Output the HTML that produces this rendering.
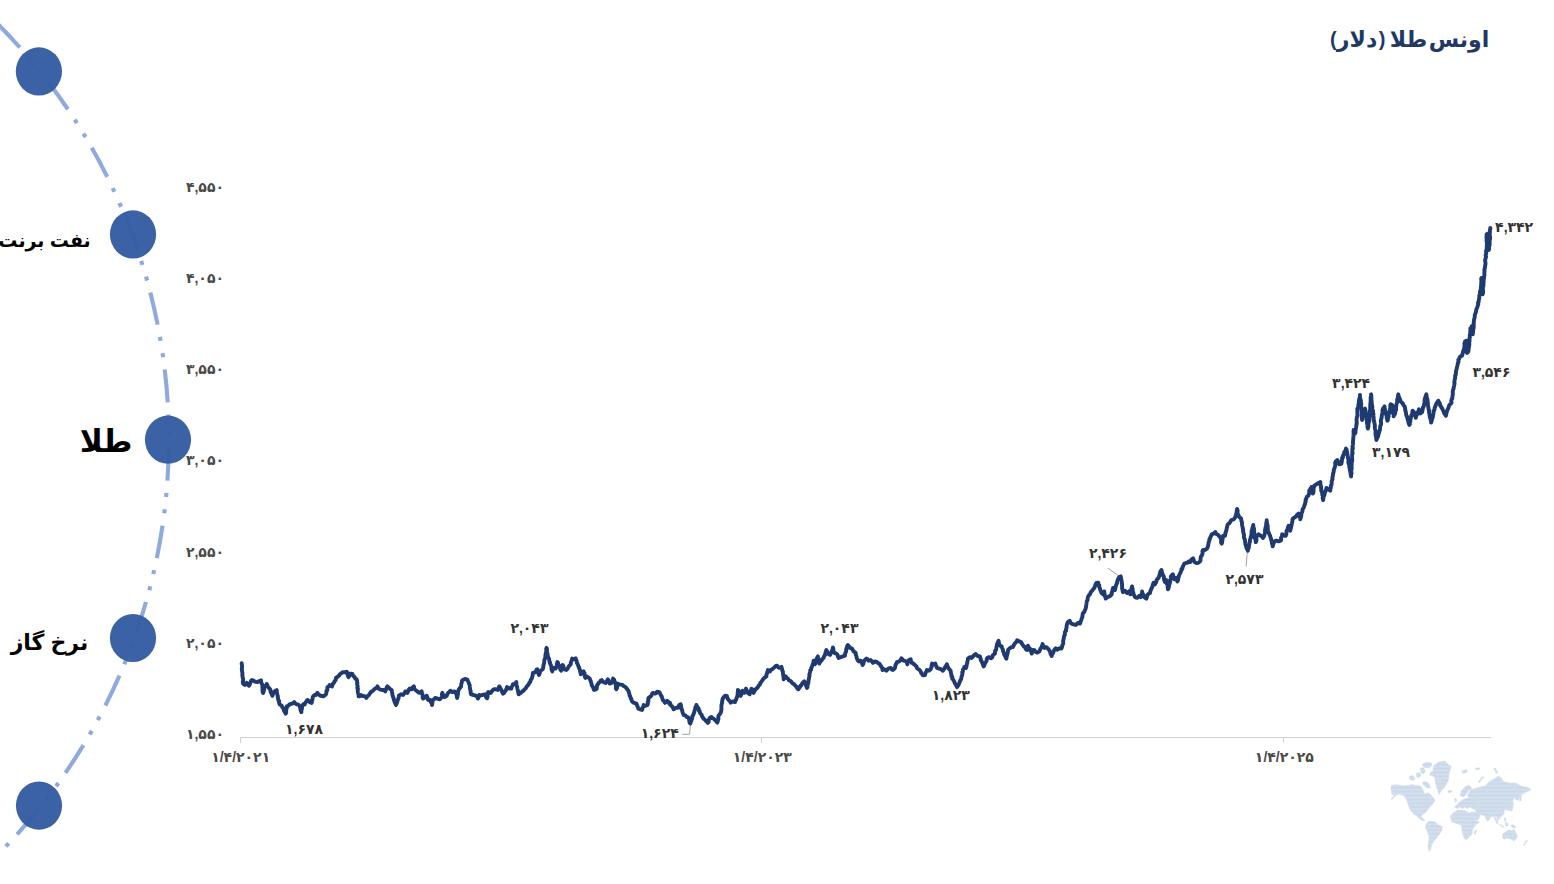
<!DOCTYPE html>
<html lang="fa" dir="ltr">
<head>
<meta charset="utf-8">
<title>اونس طلا (دلار)</title>
<style>
html,body{margin:0;padding:0;background:#fff;}
body{width:1554px;height:884px;overflow:hidden;font-family:"Liberation Sans",sans-serif;}
svg{display:block;}
svg text{font-family:"Liberation Sans","DejaVu Sans",sans-serif;}
</style>
</head>
<body>
<svg width="1554" height="884" viewBox="0 0 1554 884">
<path d="M-77.32 -40A589.73 589.73 0 0 1 -52.65 900" fill="none" stroke="#8faadc" stroke-width="4.12" stroke-dasharray="32.96 12.36 4.12 12.36 4.12 12.36" stroke-dashoffset="58.43"/>
<ellipse cx="38.9" cy="71.4" rx="23.1" ry="24.1" fill="#355ca3" fill-opacity="0.965"/>
<ellipse cx="133" cy="234.4" rx="23.1" ry="24.1" fill="#355ca3" fill-opacity="0.965"/>
<ellipse cx="168" cy="439.7" rx="23.1" ry="24.1" fill="#355ca3" fill-opacity="0.965"/>
<ellipse cx="133" cy="638" rx="23.1" ry="24.1" fill="#355ca3" fill-opacity="0.965"/>
<ellipse cx="39" cy="805.6" rx="23.1" ry="24.1" fill="#355ca3" fill-opacity="0.965"/>
<text x="44.5" y="247.3" font-size="19" font-weight="bold" fill="#000" text-anchor="middle" direction="rtl">نفت برنت</text>
<text x="106" y="451.8" font-size="31" font-weight="bold" fill="#000" text-anchor="middle" direction="rtl">طلا</text>
<text x="49.5" y="649.6" font-size="22" font-weight="bold" fill="#000" text-anchor="middle" direction="rtl">نرخ گاز</text>
<text x="1459" y="47.4" font-size="22" font-weight="bold" fill="#1f3864" text-anchor="middle" direction="rtl">اونس</text>
<text x="1408.5" y="47.4" font-size="22" font-weight="bold" fill="#1f3864" text-anchor="middle" direction="rtl">طلا</text>
<text x="1382" y="46.2" font-size="20" font-weight="bold" fill="#1f3864" text-anchor="middle">)</text>
<text x="1357" y="47.4" font-size="22" font-weight="bold" fill="#1f3864" text-anchor="middle" direction="rtl">دلار</text>
<text x="1333.3" y="46.2" font-size="20" font-weight="bold" fill="#1f3864" text-anchor="middle">(</text>
<path d="M240 737.5H1491" stroke="#d2d2d2" stroke-width="1" fill="none"/>
<path d="M240.5 737.5V743.0" stroke="#d2d2d2" stroke-width="1" fill="none"/>
<path d="M761.5 737.5V743.0" stroke="#d2d2d2" stroke-width="1" fill="none"/>
<path d="M1283.5 737.5V743.0" stroke="#d2d2d2" stroke-width="1" fill="none"/>
<text x="224" y="192" font-size="14" font-weight="bold" fill="#4a4a4a" text-anchor="end">۴,۵۵۰</text>
<text x="224" y="283.1" font-size="14" font-weight="bold" fill="#4a4a4a" text-anchor="end">۴,۰۵۰</text>
<text x="224" y="374.3" font-size="14" font-weight="bold" fill="#4a4a4a" text-anchor="end">۳,۵۵۰</text>
<text x="224" y="465.4" font-size="14" font-weight="bold" fill="#4a4a4a" text-anchor="end">۳,۰۵۰</text>
<text x="224" y="556.5" font-size="14" font-weight="bold" fill="#4a4a4a" text-anchor="end">۲,۵۵۰</text>
<text x="224" y="647.6" font-size="14" font-weight="bold" fill="#4a4a4a" text-anchor="end">۲,۰۵۰</text>
<text x="224" y="738.8" font-size="14" font-weight="bold" fill="#4a4a4a" text-anchor="end">۱,۵۵۰</text>
<text x="240.7" y="761.9" font-size="14" font-weight="bold" fill="#4a4a4a" text-anchor="middle">۱/۴/۲۰۲۱</text>
<text x="762.3" y="761.9" font-size="14" font-weight="bold" fill="#4a4a4a" text-anchor="middle">۱/۴/۲۰۲۳</text>
<text x="1284.4" y="761.9" font-size="14" font-weight="bold" fill="#4a4a4a" text-anchor="middle">۱/۴/۲۰۲۵</text>
<path d="M690.4 724.3L689.6 734.3H682.1" stroke="#a3a3a3" stroke-width="1" fill="none"/>
<path d="M1108 568.2L1121.1 577.5" stroke="#a3a3a3" stroke-width="1" fill="none"/>
<path d="M1247.3 552.1L1246.1 566.4" stroke="#a3a3a3" stroke-width="1" fill="none"/>
<path d="M241.7 663.1 241.68 664.01 242.01 665.3 242.03 667.11 241.79 668.71 241.88 670.01 242 670.93 242.4 672.9 242.43 674.7 242.31 675.19 242.75 677.54 242.8 678.11 243.17 678.95 243.18 680.63 242.76 681.73 243.1 683.6 244.9 685 245.67 684.39 246.7 682.9 247.68 684.41 249.1 685.7 249.92 684.1 250.58 682.24 250.97 681.01 252 680 253.43 680.6 254.6 681.4 255.87 681.87 257.4 682.1 258.57 681.22 260.01 681.18 261 680.3 261.1 681.76 261.58 683.55 262 684.08 262.46 685.21 262.4 687.1 262.52 688.91 262.51 689.98 262.6 691.69 263.1 692.9 263.59 691.7 263.96 690.04 264.14 689.13 264.36 687.64 264.6 686.4 265.89 685.82 266.7 684 267.41 685.38 267.84 686.58 268.98 688.14 269.6 688.6 270.39 689.72 270.64 691.68 270.95 692.81 271.61 693.74 272.4 695.7 272.82 694.64 273.61 692.48 274.6 691.4 276.7 690 276.86 691.95 276.87 692.8 277.43 694.84 277.86 696.24 277.71 697.05 278.1 698.6 278.38 700.56 279.17 700.96 279 702.5 279.6 704.3 281.7 705.7 282.25 707.11 283.23 708.23 283.9 710 284.15 711.09 285.01 712.49 285.7 713.6 286.22 712.43 286.11 710.88 286.42 708.66 286.78 708.23 286.7 706.4 288.41 705.77 289.6 704.3 290.92 703.81 292.4 703.6 294.3 702.1 295.22 703.39 296.7 704.3 297.84 704.39 299.6 705.7 299.76 706.51 300.21 707.63 300.33 709.05 300.76 710.63 301.4 712.1 301.32 711.02 301.98 708.41 301.98 707.09 302.4 705.7 303.27 704.24 304.58 704.52 305.3 702.9 306.33 701.43 307.4 700 308.21 700.49 309.6 702.1 311.7 702.9 311.87 701.27 312.49 699.83 312.21 699.63 312.84 697.21 313.1 696.4 314.58 695.04 316 695 317.4 692.9 318.39 694.5 319.59 695.04 320.3 695.7 321.53 695.86 323.1 696.4 324.32 695.73 326 694.3 326.3 693.25 326.44 691.03 327.06 690.66 327.37 688.97 327.4 687.1 328.72 686.39 329.6 685 330.61 685.72 332 686.4 332.53 684.57 332.94 683.76 333.9 682.9 334.26 681.92 335.27 680.33 335.78 679.83 336 677.9 338.1 676.4 339.39 675.28 339.84 674.15 341 673.6 342.24 672.44 343.9 672.1 345.39 672.46 346.7 671.7 347.41 673.02 347.76 674.82 347.83 675.97 348.6 677.1 349.39 675.75 349.6 673.6 351.18 673.77 352.4 674 353.27 675.95 354.6 677.1 355.32 678.72 356.6 679.35 357.1 680.7 357.12 682.65 357.43 682.9 357.1 684.2 357.73 686.44 357.28 687.8 357.95 688.89 357.7 690 357.82 691.67 357.89 692.52 358.7 695.01 358.6 696.4 359.82 696.31 361 695 362.4 696.02 363.9 696 365.33 696.55 366.3 697.9 367.43 696.16 368.9 695 369.65 693.92 370.6 692.49 371.7 691.4 372.64 691.04 374 689.47 375.3 688.6 376.41 688.07 377.4 686.4 378.44 688.43 379.6 689.3 381 689.69 382.4 690 383.87 690.03 385.3 691.4 385.78 689.71 386 689.32 386.65 687.61 387.4 686.4 388.66 687.58 389.6 688.6 391.7 690 391.86 691.45 392.3 693.24 392.26 694.34 392.64 695.37 393.1 697.1 393.67 698.36 393.89 699.96 394.51 700.77 394.6 702.1 395.38 703.56 396 705 396.71 703.47 397.4 701.4 397.74 700.02 398.13 699.17 398.66 697.65 398.9 695.7 401 694.3 403.1 695 404.14 693.46 404.61 693.22 405.3 691.4 407.4 692.9 408.37 690.96 408.6 689.95 409.6 688.6 411.7 689.3 412.5 687.49 413.9 686.4 414.3 688.44 415.3 690 417.4 691.4 418.7 692.71 419.6 692.9 421.7 691.4 421.74 693.14 422.37 693.78 422.81 696.37 422.62 697.79 423.1 698.6 424.13 697.83 425.3 697.1 426.7 695.7 427.51 697.6 427.4 698.47 428.1 700 430.3 700 430.74 701.02 430.94 702.25 431.73 703.08 432 705 432.4 703.25 432.4 701.43 433.1 700 434.29 698.97 435.3 697.9 437.4 698.6 439.6 699.3 440.35 698.88 441.7 697.1 442.14 696.36 441.89 693.97 442.4 692.9 442.81 694.69 443.71 695.18 444.6 697.1 446 696.4 446.65 695.81 447.62 693.73 448.1 692.9 448.95 692.39 450.3 690.7 452.4 692.1 454.6 691.4 455.7 693.13 456.7 694.3 456.61 695.48 457.1 697.9 457.48 696.48 457.3 695.88 457.94 694.37 457.81 693.13 458.05 691.82 458.6 690 459.62 688.32 460.7 687.1 461.12 686.28 461.3 683.74 461.86 682.47 461.95 680.95 462.6 680 465 679 467.4 679.6 467.72 680.75 468.54 682.46 469.3 684.3 469.74 685.43 469.81 686.71 469.96 687.91 470.15 689.34 470.75 691.51 470.63 692.84 471.1 694.3 473.6 695 475.7 695.7 477.1 696.6 477.9 698.6 478.82 696.71 479.3 695 480.7 695.47 482.1 695 483.48 694.66 485 694.3 485.83 696.31 486.29 697.43 487.1 698.3 487.54 696.94 487.63 694.99 487.69 693.13 488.3 692.1 490.7 692.9 491.5 691.79 492.9 690 494.13 689.18 495.7 689.3 497.9 690 498.31 688.68 499.3 686.4 500.26 687.84 500.55 688.44 501.4 690 501.82 691.14 502.29 692.32 503.1 693.6 503.88 693.15 505 691.4 506.03 690.03 506.22 689.19 507.1 687.1 508.07 687.65 509.3 688.6 511.4 688.6 511.55 687 512.38 685.74 512.9 684.3 515 684.3 515.49 683.21 516.4 682.1 516.25 683.07 516.51 684.56 516.68 685.33 517.06 686.93 517.4 688.6 517.76 690.07 518.18 691.67 518.45 693.41 518.6 694.3 520.7 692.9 522.07 691.56 523.6 690.7 524.87 689.01 525.62 688.5 526.4 687.1 527.05 686.17 528.61 684.48 529.3 682.9 530.26 681.9 530.65 680.07 531.7 678.6 532 677.64 532.51 676.21 532.66 674.87 532.9 672.9 534.43 672.57 535.7 671.7 536.36 669.84 537.4 669.3 537.52 670.53 537.87 672.62 538.57 673.75 538.9 675 539.59 673.82 540.09 671.44 540.7 670.7 542.6 669.3 543.15 668.21 543.28 666.47 543.73 664.37 544.13 663.19 544.3 662.1 544.28 660.17 545.01 658.49 545.29 657.97 545.4 655.7 545.6 654.24 545.79 653.36 546.19 651.96 546.3 649.91 546.15 648.86 546.6 647.9 546.95 648.93 547.01 649.82 546.84 651.48 547.45 653.37 547.64 654.11 547.7 655.7 548.11 656.9 548.48 657.67 549.18 659.03 549.3 660.7 550.08 662.56 549.86 663.14 550.87 665.11 551.1 665.7 551.36 666.8 551.5 669.17 551.8 670.09 552.3 671.4 552.7 669.68 553.6 667.9 555.7 668.6 556.36 666.79 556.6 666.01 556.99 664.98 556.87 663.96 557.4 662.1 558.02 662.63 558.32 664.49 559.3 665.7 559.72 666.67 559.95 667.98 560.52 669.93 561.1 670.7 561.13 669.63 562.09 667.32 562.52 666.72 562.6 665 563.45 666.14 563.64 667.72 564.3 669.3 566.4 670 567.7 668.67 568.3 667.1 569.4 665.6 570.7 664.3 570.89 662.24 571.12 661.92 571.6 660.63 572.1 658.6 574.3 659.3 575.7 658.3 575.95 659.3 576.56 660.52 576.89 662.91 577.4 663.6 578.14 665.29 578.44 666.68 579.13 667.42 579.3 668.6 579.8 669.39 580.16 671.38 580.53 673.08 580.7 674.3 582.1 672.9 583.6 671.4 583.81 672.07 584.62 673.48 584.66 675.08 584.9 676.93 585.4 677.9 587.1 676.4 588.9 677.9 589.83 678.73 590.21 679.95 590.7 681.4 591.22 682.5 591.42 683.43 591.92 685.72 592.6 686.4 593.3 687.81 594 690 596 689.3 596.76 688.75 596.91 686.3 597.21 684.98 597.9 684.3 598.84 682.63 600 682.1 600.67 680.71 601.7 680 602.7 681.59 603.6 682.1 605.7 682.9 606.61 681.58 607.11 680.53 607.9 679.3 608.41 680.51 608.79 681.86 609.7 683.6 611.4 682.9 612.29 680.94 612.54 680.21 613.1 678.6 613.99 679.37 614.21 680.58 615 682.1 615.21 683.46 615.88 685.47 616.1 685.75 615.79 688.15 616.4 689.3 617.05 687.84 617.21 685.75 617.45 685.62 617.9 683.6 619.53 684.6 620.7 684.6 622.48 684.95 623.6 686 624.73 686.47 626.4 687.9 627.15 689.32 628.18 690.54 628.6 691.4 629.13 693.02 629.42 693.97 629.55 695.55 630.3 696.4 630.56 698.24 631.3 698.63 631.39 699.8 632.1 701.4 633.3 702.43 634.3 702.9 636.4 703.6 636.6 704.25 637.37 706.22 637.75 706.96 638.3 708.6 640 709.3 642.1 710 642.55 708.06 642.71 707.44 643.55 706.45 643.6 705 645.7 705.7 647.4 705 647.91 703.55 647.69 701.81 648.44 701.03 648.23 698.65 648.6 697.9 650.7 696.4 651.43 695.48 652.11 693.73 652.9 692.9 655 693.6 656.17 693.25 657.1 691.7 659.3 692.1 659.71 692.65 660.39 694.39 661.1 695.7 661.83 696.71 662.51 698.9 662.9 700 663.95 701.04 665 702.9 666.38 701.54 667.1 700.7 668.42 701.77 669.3 703.6 670 702.9 670.51 704.43 671.26 705.87 672.1 706.4 672.85 707.41 673.6 709.3 675.7 707.9 677.9 707.9 678.41 706.33 679.3 705 680.7 704.3 681.17 706.35 681.15 707 681.55 709.24 682.1 710 682.22 710.62 682.54 712.35 683.5 714.29 683.6 715 685.7 715.7 686.96 717.1 687.9 717.1 688.9 718.66 689.3 720.7 689.58 722.76 690.3 723.6 690.92 721.69 691.32 720.93 691.56 719.61 692.1 718.6 692.31 716.46 692.83 715.51 693.74 713.75 694.18 712.43 694.3 711.4 694.62 710.57 695.37 708.75 695.24 707.52 695.89 706.87 696.4 705 696.94 706.26 697.9 707.9 698.7 708.49 698.89 710.84 699.66 711.01 700 712.9 700.37 713.45 701.69 714.89 702.1 716.4 703.37 718.41 704.3 719.3 705.24 720.03 706.4 721.4 707.9 722.9 708.69 721.63 708.67 720.34 709.3 718.6 710.22 717.44 711.4 716.9 712.15 718.11 713.6 718.6 714.94 719.84 715.7 720.7 717.4 722.6 717.95 720.55 717.69 719.81 718.44 719.1 718.28 716.73 718.6 715.7 719.6 714.29 720.7 712.9 721.17 711.02 721.25 710.37 721.43 708.98 721.44 706.93 721.41 705.54 721.7 704.3 722.2 702.29 722.09 701.8 722.42 699.42 722.9 698.6 723.62 697.22 725 695.7 726.9 696 727.34 698.01 728.3 699.35 728.6 700 729.49 700.72 730.7 702.6 732.9 701.4 735 702.1 735.24 700.85 736.2 699.53 736.39 698.23 737.1 697.1 737.34 695.92 737.59 694.75 737.7 692.31 737.98 691.13 737.9 690 738.85 690.87 739.7 692.1 740.2 692.98 740.19 694.34 740.7 696 740.93 695.21 741.7 693.11 742.05 692.71 742.6 690.7 743.46 691.42 744.3 692.9 745.08 691.68 745.78 689.48 746 688.6 746.62 690.48 747.51 692.05 747.9 692.9 749.7 694.3 749.8 692.59 750.28 691.02 751.31 690.14 751.4 688.6 752.43 689.85 753.12 691.4 753.6 692.9 754.03 692.09 755.11 689.95 755.4 689.3 756.72 688.37 757.9 687.1 758.75 685.52 760 684.3 760.45 682.69 761.23 682.04 762.1 680.7 763.31 678.88 764.3 677.9 766.4 676.4 766.36 674.88 767.12 673.4 767.17 672.14 767.81 671.35 767.9 670 770 671.4 770.74 669.79 772.1 669.3 773.13 668.42 774.3 667.4 775.8 665.98 777.1 665.7 777.96 667.07 779.3 667.9 781.4 666.9 781.84 668.1 782.27 670.53 782.9 671.4 782.89 672.81 783.03 673.92 783.5 676.05 783.27 676.24 783.64 677.57 783.6 679.3 784.3 678.41 785.7 676.4 786.75 677.95 787.9 678.6 788.88 680.19 790 680.7 791.02 681.33 792.1 682.9 792.86 683.67 794.3 684.3 795.45 685.92 796.4 686.4 797.06 688.02 798.3 689.3 799.06 688.21 800 687.1 800.45 685.63 801.41 685.36 802.1 683.6 802.93 682.49 804.3 681.4 805.21 683.5 805.7 684.3 806.09 685.58 806.9 687.9 807.49 687.25 807.45 684.64 808.05 683.79 808.32 682.8 808.54 680.84 808.6 680 809.03 678.29 809 677.85 809.53 675.61 809.34 674.59 809.78 673.25 810 672.1 810.26 670.32 811.21 669.81 811.25 667.91 812.1 666.4 812.66 664.33 813.09 663.01 813.29 662.2 813.6 660.7 814.39 662.23 815 664.3 815.41 662.75 815.88 661.19 816.4 659.3 817.11 657.76 817.9 656.4 817.85 658.01 818.45 658.91 818.92 661.11 818.99 661.71 819.3 663.6 820.33 661.6 821.4 660.7 822.24 659.2 823.6 657.9 824.01 656.37 825 655 825.47 652.69 826.03 651.08 826.4 650 827.06 651.59 827.41 651.78 827.9 653.6 830 655 830.7 653.38 831.4 652.1 832.22 650.02 832.65 649.66 832.9 647.4 833.41 649.22 833.39 650.82 833.94 652.16 834.3 652.9 836.4 653.6 837.42 654.56 838.07 657.07 838.6 657.9 840.7 657.1 842.9 656.4 845 655.7 844.98 654.07 845.74 652.38 846.12 651.12 846.34 649.52 846.4 648.6 846.9 647.99 847.2 645.87 847.9 645 848.95 646.2 850 647.9 852.1 648.6 852.53 649.55 853.6 651.4 855.7 652.9 855.81 654.94 856.53 656.3 856.52 657.57 857.1 658.6 857.58 660.04 858.6 661.4 860.7 660.7 861.43 661.94 862.23 663.64 862.6 665 863.22 664.1 863.46 662.82 864.3 660.7 865.44 659.5 866.4 658.6 867.71 659.32 868.6 660.7 870.7 660 872.14 661.56 872.9 662.9 875 661.4 877.1 662.1 878.1 663.22 879.3 663.6 880.7 665.7 881.29 666.68 882.14 667.93 882.6 670 884.3 669.3 886.4 670.7 887.72 669.16 888.6 668.3 890.7 667.9 891.9 669.63 892.9 670 894.01 669.18 895 667.9 895.34 665.75 895.62 664.51 896.51 663.46 896.9 662.1 899.3 661.4 900.36 660.4 901.4 658.3 902.24 659.12 903.6 660.7 905.7 661.1 906.66 662.03 907.4 664.3 907.55 662.66 908.12 661.23 908.9 660 910.7 659.3 911.01 661.22 911.7 662.9 912.91 663.19 914 664.3 915.29 665.31 916.4 666.4 917.24 668.46 918.6 669.3 919.47 669.86 920.7 671.4 921.15 672.93 922.43 674.46 922.9 675.4 925 675 925.41 673.42 925.61 672.7 926.47 671.04 926.9 670 928.9 670.7 930.7 669.3 931.15 667.8 931.71 666.78 931.57 665.59 932.1 663.6 934 664.3 935.4 663.6 935.58 665.08 936.33 666.1 936.9 667.9 939.3 668.6 941.4 669.3 942.9 670.7 943.44 669.89 944.6 668.3 945.03 667.04 946.44 665.13 946.9 664.3 947.39 666.25 948.3 667.9 949.15 669.15 950 670 950.69 670.98 950.8 672.59 951.4 674.3 951.46 676.1 952.35 677.1 952.18 678.53 952.9 679.3 953.77 680.68 954.47 682.1 955 683.6 955.51 684.21 956.21 685.29 957.1 687.1 957.72 686.05 958.7 684.78 959.3 682.9 959.97 681.32 960.39 680.31 961.08 679.18 961.4 677.9 961.49 676.78 962.23 674.87 962.42 673.27 962.23 672.26 962.82 671.94 962.9 670 963.77 668.31 964.3 667.1 966 667.9 966.54 666.33 966.36 665.81 966.91 664.18 967.2 663.26 967.34 661.73 967.77 660.43 967.9 658.6 970 657.1 971.7 657.9 972.61 657.11 973.6 655.7 974.7 654.58 975.7 654 976.6 655.17 977.9 656 980 656.4 980.13 658.23 980.6 658.24 981 660.75 981.7 661.4 982.07 662.15 982.32 663.26 983.26 665.34 983.6 666.4 984.34 665.56 984.5 664.19 985.4 662.9 985.8 662.09 986.62 660.95 986.6 659.66 987.4 657.9 989.3 657.1 991.1 658.3 992.29 657.27 992.9 655 995 653.6 995 651.89 995.29 650.35 996.08 650.14 996.21 648.86 996.4 647.1 996.93 645.52 997 643.98 997.9 642.85 998.03 641.87 998.6 640.7 998.73 642.03 999.38 644.34 1000 645.7 1001.7 646.4 1002.07 647.82 1002.96 649.74 1003.1 651.4 1003.98 653 1004.04 654.14 1005 655.7 1005.66 657.53 1006.4 658.6 1006.59 657.45 1007.03 655.32 1007.55 653.71 1007.82 652.38 1007.9 651.4 1008.25 649.58 1009.3 648.6 1011.4 647.1 1012.68 647.07 1013.6 645.7 1014.15 644.29 1015.4 642.9 1016.24 642.02 1017.1 640.3 1019.3 641.4 1021.1 642.1 1021.78 643.54 1022.9 645 1023.84 646.51 1025 647.1 1025.78 649.17 1026.9 650 1027.08 648.17 1027.71 647.13 1027.9 645.7 1028.68 647.34 1030 648.6 1030.13 650.25 1030.99 651.5 1031.36 652.15 1031.7 653.6 1032.33 651.65 1033.1 650 1034.52 650.27 1035.4 651.7 1037.4 652.6 1039.3 651.4 1040.17 649.57 1040.29 648.74 1041.1 647.9 1041.88 646.6 1042.02 645.84 1042.6 644 1042.98 645.25 1043.76 646.96 1044.3 647.9 1046.4 647.1 1047.68 648.4 1048.6 649.3 1049.34 650.46 1050.3 652.1 1050.53 653.88 1051.35 655.04 1051.7 656 1052.1 654.38 1053.16 653.04 1053.6 651.4 1054.39 649.8 1055.7 648.3 1057.4 649.7 1059.3 648.3 1061.4 648.6 1062.17 646.8 1062.18 645.46 1062.9 644.3 1063.28 643.35 1063.12 640.95 1063.42 639.76 1063.85 638.09 1063.95 636.7 1064.3 635.7 1064.97 634.74 1064.7 633.79 1065.04 631.7 1066 630.99 1066 629.3 1066.54 627.77 1066.55 626.61 1066.86 624.57 1067.44 622.89 1067.9 622.1 1069.7 620.7 1070.48 622.56 1071.4 623.6 1073.6 624.3 1075.7 625 1076.94 623.95 1077.9 622.9 1080 623.6 1080.52 622.3 1080.6 621.25 1081.21 620.19 1081.7 618.6 1082.34 617.08 1082.45 616.1 1082.69 613.94 1083.1 612.9 1084.21 611.98 1085 610 1085.54 608.86 1085.95 607.4 1086.15 605.66 1086.4 604.3 1086.57 603.04 1086.72 601.31 1087.5 600.28 1087.69 598.19 1087.9 597.1 1088.55 595.9 1089.39 594.69 1090.12 594.28 1090.48 592.76 1091.4 591.4 1092.44 590.19 1093.1 589.3 1094.04 588.51 1095 586.4 1095.38 584.71 1096.4 582.9 1098.3 582.6 1098.41 584.32 1099.31 585.28 1099.07 586.68 1099.7 587.9 1100.15 589.45 1100.56 590.59 1101.21 591.68 1101.4 592.9 1102.9 594.3 1103.54 593.48 1104.3 591.4 1104.38 593.1 1104.78 594.65 1104.88 596.4 1105.32 596.54 1105.7 598.6 1106.64 597.71 1107.9 597.1 1110 596 1111.7 594.3 1111.64 592.91 1112.2 592.02 1112.44 590.13 1112.63 589.52 1113.1 587.9 1114.36 588.99 1115 590 1115.15 589 1115.62 586.75 1115.79 586.11 1116.4 584.3 1116.99 583.24 1117.13 581.89 1117.33 581.2 1117.9 579.3 1118.5 578.39 1119.3 577.1 1120.7 576.4 1121.12 578.14 1121.08 578.71 1121.33 579.78 1121.73 581.4 1121.7 582.9 1122.12 583.89 1121.96 585.18 1122.16 586.4 1122.04 588.47 1122.4 589.11 1122.59 590.76 1122.9 592.1 1125 590.7 1126 591.99 1127.1 592.9 1128.9 591.4 1129.71 592.66 1130.3 594.3 1130.9 593.48 1130.59 592.13 1131.48 590.75 1131.25 589.5 1131.89 587.04 1132.1 586.4 1132.01 588.35 1132.71 588.68 1132.57 589.85 1132.91 592.05 1133.24 592.5 1133.6 594.3 1134.58 596.11 1135 597.1 1137.1 597.9 1137.97 597.35 1139.3 595.7 1140.7 597.1 1141.13 596.07 1141.52 594.8 1141.95 593.3 1142.1 591.4 1142.44 593.09 1143.22 594.59 1143.71 596.21 1144.3 597.1 1146.4 598.6 1146.94 596.84 1147.21 595.23 1147.9 594.3 1150 592.9 1150.52 590.83 1151.03 589.5 1151.57 588.55 1152.1 587.1 1152.63 586.21 1152.75 584.78 1153.6 582.9 1155 584.3 1155.5 583.14 1156.17 582.28 1156.49 580.44 1157.1 579.3 1158.6 577.9 1159.39 575.64 1159.63 574.76 1160 572.9 1160.37 571.6 1161.4 570 1161.95 572.03 1162.13 573.52 1162.68 574.25 1163.1 575.7 1163.76 576.33 1164.01 578.44 1164.13 580.05 1164.53 580.78 1165 582.1 1166.4 580 1166.63 581.71 1166.63 582.57 1166.99 584.06 1167.49 585.02 1167.7 586.51 1167.69 587.65 1167.9 589.3 1168.35 588.54 1168.91 586.86 1169.13 584.77 1169.7 583.6 1169.84 582.4 1170.36 581.36 1170.23 579.96 1171.1 578.4 1170.8 576.74 1171.4 575.7 1172.9 574.3 1173.02 575.53 1174.13 577.79 1174.3 579.3 1176 577.9 1176.81 580.05 1177.4 581.4 1178.06 580.13 1178.23 578.73 1178.66 577.26 1178.9 575.7 1179.63 574.1 1180.22 573.24 1180.7 572.1 1181.36 570.29 1181.43 568.95 1182.32 568.93 1182.6 567.1 1183.56 565.17 1184.3 563.6 1186.4 562.9 1187.73 562.55 1188.6 561.4 1190.3 562.1 1191.04 560.36 1191.7 559.3 1193.1 558.3 1193.46 559.46 1193.97 560.74 1194.6 562.1 1196.4 563.1 1198.3 562.9 1200 561.4 1200.52 560.58 1200.54 558.64 1200.95 556.59 1201.7 555.7 1202.27 554.38 1202.69 552.78 1202.41 551.27 1203.1 550 1205 550 1206.9 548.6 1207.43 547.78 1208.17 545.7 1208.3 544.3 1208.66 542.32 1209.25 541.05 1209.33 539.35 1210 538.6 1210.22 537.42 1210.87 536.39 1211.7 534.3 1213.6 533.6 1215.4 532.1 1215.96 533.72 1217.1 534.3 1217.94 534.67 1219.3 536.4 1220.15 537.14 1220.7 538.6 1221.2 539.83 1221.05 542.32 1221.7 543.6 1222.08 542.78 1222.33 540.38 1222.49 539.94 1222.61 538.94 1222.69 537.67 1223.1 535.7 1225 535.7 1225.5 533.59 1225.36 533.06 1226.27 530.84 1226.4 530 1226.64 528.9 1226.92 527.66 1227.52 525.11 1227.9 524.3 1229.7 522.9 1230.46 521.55 1231.4 520 1233.6 519.3 1234.46 518.45 1235.4 517.1 1235.48 516.12 1235.97 514.5 1236.4 512.9 1236.72 511.45 1236.79 510.63 1237.1 508.9 1237.64 510.65 1237.6 511.31 1237.47 513.61 1238 514.3 1238.79 516.16 1239.3 517.1 1241.1 518.6 1241.23 520.16 1241.93 521.9 1241.92 522.58 1242.05 524.81 1242.26 525.94 1242.6 527.1 1242.9 529.09 1243.28 529.66 1242.95 531.07 1243.48 532.95 1243.99 534.81 1244 535.7 1243.91 537.6 1244.68 539.08 1244.75 539.68 1245.18 541.86 1245.3 543.45 1245.4 544.3 1245.79 545.15 1246.44 547.58 1246.9 548.6 1247.9 550.7 1247.97 549.77 1248.76 547.77 1248.81 547.11 1249 545.17 1249.3 544.3 1249.41 543.21 1250.06 541.36 1249.85 540.41 1250.61 538.17 1250.7 537.1 1251.04 536.24 1251.53 534.29 1251.52 532.97 1251.6 530.99 1252.1 530 1252.28 528.61 1252.8 526.76 1253.3 525 1253.37 526.35 1253.34 527.02 1254.08 528.81 1253.6 530.5 1254.22 531.16 1254.23 532.75 1254.3 534.3 1254.55 534.93 1254.44 537.59 1255.26 538.18 1255.28 539.17 1255.66 540.7 1255.7 542.1 1256.29 541.19 1256.48 540.19 1256.37 537.61 1256.61 536.53 1257.1 535.7 1258.6 534.3 1260.7 535.7 1261.51 536.17 1262.9 537.9 1263.51 537.22 1264 536.13 1264.6 534.3 1265.11 532.25 1265.11 531.28 1264.99 530.62 1265.31 528.63 1265.7 527.1 1266 526.38 1266.22 524.23 1266.26 522.54 1266.83 522.35 1266.7 520.3 1266.68 521.04 1266.87 522.86 1267.5 525.02 1267.62 525.21 1267.76 527.52 1267.83 529.29 1267.9 530 1268.06 530.94 1269.01 533.48 1269.3 534.3 1270.02 535.45 1270.56 537.53 1271.1 538.6 1271.07 539.65 1271.43 540.67 1271.84 542.04 1271.92 543.3 1272.47 544.42 1272.6 546.4 1273.18 544.72 1273.13 544.5 1273.68 543.26 1274.3 541.4 1276.4 540.7 1278.6 541.4 1280.7 540.7 1281.24 539.96 1281.01 538.07 1281.26 537.46 1282.06 535.76 1282.1 534.3 1283.17 534.78 1284.3 535.7 1285.7 535.7 1286.28 534.24 1286.49 532.35 1286.56 530.8 1287.1 530 1287.75 528.64 1287.85 527.65 1288.6 525.7 1288.86 526.83 1289.21 527.88 1290.11 529.22 1290.3 530.7 1290.42 529.26 1290.87 528.41 1291.08 527.1 1291.7 525 1291.63 524.27 1292.3 522.04 1292.4 520.86 1292.49 519.46 1292.9 518.6 1295 517.1 1295.85 516.74 1296.9 515 1298.6 513.6 1299.37 515.62 1299.17 516.16 1300.15 517.26 1300.3 519.3 1300.74 517.73 1301.2 516.06 1301.35 515.24 1301.17 513.48 1301.7 512.9 1302.4 511.5 1302.41 509.94 1303.1 508.6 1304.02 506.77 1304.42 505.23 1305 504.3 1305.06 503.4 1305.71 501.32 1305.55 499.88 1306.2 499.17 1306.4 497.9 1307.19 496.39 1308.3 495.7 1308.73 494.57 1309.22 492.97 1309.14 490.82 1309.7 490 1310.71 488.42 1311.4 487.1 1311.86 487.78 1312.22 489.47 1312.54 491.51 1312.6 491.62 1312.9 493.6 1313.42 492.25 1313.63 490.64 1313.38 490.11 1313.74 487.86 1313.98 487.15 1314.3 485.7 1316.4 484.3 1317.15 483.63 1318.6 482.9 1320.3 482.1 1320.46 483.45 1320.43 485.06 1321.12 486.6 1320.97 487.71 1321.22 489.09 1321.19 490.59 1321.7 491.4 1322.25 492.83 1322.18 494.31 1322.43 495.03 1322.96 496.75 1322.64 498.01 1323.1 500 1323.3 499.02 1323.52 496.59 1324.36 495.3 1324.6 494.3 1324.62 493.16 1325.37 491.77 1325.82 489.9 1326.3 489.48 1326.4 487.9 1328.3 489.3 1330.3 490.7 1330.21 488.87 1330.76 488.1 1330.85 486.27 1331.17 484.99 1331.53 484.71 1331.7 482.9 1331.65 481.57 1332.27 479.56 1332.53 479.21 1332.42 477.06 1332.94 475.77 1332.9 474.3 1333.18 473.49 1333.79 471.22 1333.77 469.79 1334.3 468.6 1334.53 467.83 1335.07 466.3 1335.36 464.77 1335.11 462.86 1335.7 461.4 1337.4 460 1338.35 462.04 1338.49 462.76 1339.3 464.3 1341.4 463.6 1341.74 462.09 1341.92 460.36 1342.1 459.66 1342.06 457.83 1342.98 457.4 1342.9 455.7 1343.91 454.09 1344.3 452.1 1345.37 450.89 1346 448.6 1346.62 449.37 1346.8 451.12 1347.17 452.56 1347.4 454.3 1347.64 456.32 1347.91 456.81 1348.06 458.49 1348.57 459.72 1348.34 461.65 1348.42 463 1348.9 464.3 1349.5 465.74 1349.3 467.09 1349.76 468.07 1349.76 469.46 1350.3 471.4 1350.42 472.94 1350.69 474.37 1351.1 476.4 1350.89 475.1 1351.5 473.82 1351.4 472.51 1351.22 471.23 1351.49 469.63 1351.68 468.16 1351.55 466.47 1351.57 465.48 1351.77 464.22 1351.59 462.53 1352.27 461 1352.1 460 1352.2 458.66 1352.06 458.03 1352.13 456.4 1352.09 454.08 1352.65 453.27 1352.14 451.87 1352.46 451.03 1352.28 448.99 1352.94 448.38 1352.43 446.49 1352.63 445.63 1352.87 444.55 1353.07 442.75 1352.9 441.4 1353.15 440.32 1353.26 438.52 1353.36 437.42 1353.54 435.18 1353.6 433.58 1353.61 432.97 1353.51 432.07 1353.6 430 1354.35 431.69 1355 433.6 1355.43 432.81 1355.54 430.8 1355.67 429.59 1356.09 428.04 1356.09 427.09 1356.4 425.7 1356.41 424.09 1356.78 423.46 1356.67 421.53 1356.54 419.97 1356.61 418.99 1357 416.94 1357.33 415.91 1357.37 415.26 1357.54 413.01 1357.26 412.64 1357.4 410.7 1357.27 408.74 1357.87 408.04 1358.34 407.1 1358.28 406.08 1358.48 404.08 1358.82 402.57 1358.9 401.4 1359.08 399.93 1359.35 398.83 1359.85 396.64 1360 395 1359.88 396.25 1360.24 397.94 1360.52 399.82 1360.95 400.7 1360.74 402.32 1361.29 403.35 1361.1 405 1361.21 406.81 1361.05 407.47 1361.71 409.55 1361.47 409.91 1361.83 412.08 1361.87 413.87 1362.01 414.43 1361.59 415.61 1361.93 417.28 1361.79 418.19 1362.1 420 1362.41 418.82 1362.43 418.03 1362.84 415.37 1362.9 415.09 1363.04 413.62 1363.04 411.75 1363.6 410.7 1365 408.6 1365.47 410.14 1365.58 411.01 1365.7 412.92 1365.77 414.47 1366.19 416.38 1366.4 417.1 1366.64 418.41 1366.51 419.49 1367.14 420.86 1366.87 422.39 1367.35 424.74 1367.6 426.15 1367.41 426.48 1367.9 428.6 1368.32 426.92 1368.52 425.53 1368.37 423.97 1368.55 423.43 1369.12 421.22 1369.3 420 1369.36 418.54 1369.17 417.95 1369.63 416.74 1369.62 414.97 1369.58 412.86 1370.15 412.7 1369.81 411.46 1370.25 409.33 1370.19 408.94 1370.21 407.63 1370.3 405.7 1370.22 404.12 1370.65 402.46 1370.47 401.95 1370.69 400.41 1370.62 398.12 1370.8 396.71 1371.33 395.43 1371.1 394.3 1371.27 395.19 1371.37 396.99 1371.41 397.97 1371.34 400.46 1371.62 401.07 1371.63 402.55 1371.79 403.62 1372.1 405.7 1372.4 406.9 1372.23 408.84 1372.38 409.65 1373.08 410.88 1373 413.3 1373.44 413.77 1373.31 415.99 1373.6 417.1 1373.69 419.18 1373.75 420.61 1374.13 421.03 1374.27 422.33 1374.62 423.95 1374.93 425.85 1374.73 426.81 1375 428.6 1375.25 429.62 1375.61 430.92 1375.53 432.93 1375.54 434.68 1375.79 435.95 1376.1 436.89 1376.15 438 1376.4 440 1376.81 439.06 1377.54 437.36 1378.3 435.7 1378.45 434.36 1379.05 432.85 1379.43 430.82 1380 430 1380.04 428.19 1380.09 427.45 1380.37 425.59 1380.99 424.68 1381.14 423.38 1380.79 421.14 1380.9 420.28 1381.4 418.6 1381.73 416.96 1381.77 415.97 1382.18 413.96 1382.5 412.68 1382.56 411.01 1382.42 410.61 1382.9 408.6 1383.91 407.8 1384.6 406.4 1384.51 407.07 1384.83 408.61 1385.16 410.18 1385.21 411.4 1385.86 412.53 1386 414.3 1386.52 415.68 1386.71 416.52 1386.79 418.4 1387.01 418.72 1387.4 420.7 1387.95 419.79 1387.88 417.46 1388.6 416.95 1388.35 415.14 1388.71 414.61 1389.3 412.9 1389.33 412.05 1389.94 409.45 1390.14 408.45 1390.41 407.63 1390.31 405.16 1390.7 404.3 1392.1 405 1392.6 406.32 1392.78 408.12 1392.83 409.74 1392.94 410.63 1392.73 412.4 1393.17 413.57 1393.71 414.45 1393.6 416.4 1394.38 414.33 1394.94 413.96 1395.4 412.1 1395.45 410.85 1396.16 409.66 1396.07 407.81 1395.95 406.64 1396.41 405.11 1396.55 403.71 1396.9 402.9 1397.28 401.71 1397.18 399.67 1397.61 398.52 1398.14 396.96 1397.93 396.27 1398.3 394.3 1398.52 395.82 1399.12 397.61 1399.7 398.6 1400.43 400.71 1401.1 402.1 1402.9 403.6 1403.52 405.23 1404.6 406.4 1404.95 407.65 1405.35 409.46 1405.17 410.01 1405.62 411.19 1406 412.9 1406.07 414.01 1406.55 416.02 1407.1 416.62 1407.4 418.54 1407.9 420 1408.27 421.2 1408.53 422.65 1409.3 425 1409.92 424.07 1409.57 422.74 1410.48 421.25 1410.15 419.86 1410.7 418.6 1410.97 416.85 1411.36 415.28 1411.94 414.85 1412.06 413.94 1412.39 411.67 1412.6 410.7 1414 412.1 1414.25 413.04 1414.52 415.38 1415.51 416.16 1415.7 417.9 1416.18 416.29 1417.1 414.3 1417.79 413.65 1417.77 412.2 1418.68 410.89 1418.9 409.3 1419.25 410.29 1420.06 411.91 1420.3 413.6 1422.1 412.1 1422.32 410.87 1422.64 409.96 1422.87 407.56 1423.41 407.08 1423.91 405.89 1424 404.3 1424.56 403.48 1424.56 401.42 1424.6 399.7 1425.18 397.95 1425.4 397.1 1426.03 395.23 1426.4 394.3 1426.57 396.39 1426.54 396.51 1427 398.15 1427.41 399.32 1427.71 401.94 1427.89 402.77 1427.9 404.3 1427.95 405.85 1428.31 406.85 1428.39 408.2 1428.82 410.07 1429.18 410.47 1428.96 412.19 1429.3 413.6 1429.6 414.67 1429.6 415.59 1429.95 417.4 1430.66 419.32 1430.84 420.69 1431.17 421.48 1431.1 422.6 1431.68 420.6 1431.94 419.99 1432.04 418.56 1432.86 417.05 1432.9 415.7 1433.34 414 1433.47 413.4 1433.59 411 1434.39 409.95 1434.6 408.6 1434.76 407.57 1435.41 406.21 1435.89 404.89 1436.4 403.6 1437.4 402 1438.3 400.7 1438.6 401.45 1439.71 403.17 1440 404.3 1440.3 406.01 1440.96 406.13 1441.7 407.9 1442.35 408.72 1442.96 410.31 1443.6 411.4 1444.06 412.95 1444.9 414.3 1446 415.7 1446.08 414.29 1446.76 412.26 1446.99 410.83 1447.4 410 1447.92 409.08 1448.57 407.43 1449.1 405.7 1450.18 404.11 1450.9 403.6 1451.52 402.61 1451.18 401.46 1451.66 399.24 1452.34 398.49 1452.3 397.1 1452.69 395.16 1452.89 393.62 1452.72 392.64 1452.76 391.52 1453.1 389.68 1453.65 388.42 1453.7 387.1 1454.17 385.85 1454.36 384.35 1454.59 383.37 1454.27 381.78 1454.59 380.39 1454.9 378.6 1455.25 377.62 1455.08 375.54 1455.73 374.91 1455.94 372.2 1456 371.4 1456.42 369.41 1456.73 368.97 1456.78 367.72 1457.4 365.7 1457.82 364.08 1457.79 363.07 1458.54 361.97 1458.33 359.91 1458.9 359.3 1459.33 358.27 1460.3 356.4 1462.3 355.4 1462.43 354.13 1462.85 352.96 1463.27 350.85 1463.7 350 1464.16 348.62 1464.23 347.56 1464.61 345.02 1464.39 343.78 1464.7 343.36 1464.9 341.4 1466.3 340.7 1466.59 341.41 1466.23 343.86 1466.66 344.62 1466.59 345.64 1466.93 347.33 1467.03 348.99 1466.55 349.95 1466.72 352.1 1467 352.9 1468.4 351.4 1468.66 349.34 1468.57 348.37 1468.98 347.25 1469.12 345.52 1469.4 344.3 1469.13 343.1 1469.43 341.01 1469.6 341.06 1469.38 338.57 1469.89 337.44 1469.69 336.45 1469.76 335.24 1470.02 334.47 1470.42 331.87 1470.19 331.6 1470.49 330.29 1470.3 328.6 1471.09 327.69 1471.7 326.4 1471.77 327.41 1472.24 329.56 1472.51 330.6 1472.23 332.04 1472.7 333 1472.7 334.3 1472.99 332.65 1473.14 331.29 1472.99 329.75 1473.38 329.22 1473.7 327.1 1473.77 325.49 1473.68 323.89 1473.83 322.33 1473.68 321.94 1474.1 320 1474.37 318.5 1474.75 316.88 1474.77 315.13 1475.16 314.05 1475.6 312.9 1476.11 311.17 1476.3 309.3 1477.31 307.28 1477.7 305.7 1478.27 304.4 1477.97 302.41 1478.6 302.12 1478.72 300.4 1479.1 298.6 1479.31 297.69 1479.31 295.72 1480.15 294 1479.96 292.22 1480.15 291.13 1480.79 289.63 1480.9 288.6 1480.89 286.84 1481.1 286.43 1481.19 284.16 1481.31 283.9 1481.28 281.32 1481.49 281.1 1481.23 278.73 1481.4 277.9 1481.28 279.32 1481.86 280.83 1482 281.6 1481.68 283.72 1482 284.6 1482.13 285.87 1481.79 287.35 1481.88 289.01 1482.18 290.19 1482.47 291.23 1482.47 292.25 1482.6 294.3 1483 293.09 1483.14 291.08 1482.98 290.71 1482.88 288.53 1482.86 287.3 1483.39 285.93 1483.52 285.09 1483.43 284.02 1483.54 282.82 1483.67 281.06 1483.7 280 1484 278.23 1484.11 277.5 1484.29 275.43 1484.42 274.94 1484.33 272.52 1484.52 272.02 1484.38 269.28 1484.75 268.75 1484.9 267.1 1485.21 265.49 1485.49 263.87 1485.45 262.26 1485.06 260.9 1485.2 259.99 1485.67 258.12 1486.06 256.96 1485.63 255.27 1486 254.3 1486.29 253.47 1486.01 250.79 1486.57 249.66 1486.84 248.6 1486.72 246.96 1486.96 245.69 1486.75 244.89 1487 242.9 1486.66 241.79 1486.56 240.24 1486.73 239.11 1486.43 237.26 1486.6 236.32 1486.6 234.3 1488 233.6 1488.39 235.14 1487.96 235.99 1488.06 237.61 1488.11 238.65 1488.56 240.63 1488.31 242.49 1488.33 243.26 1488.36 245.04 1488.93 245.57 1488.93 247.72 1488.67 248.4 1488.9 250 1489.05 249.13 1488.98 247.42 1489.45 245.67 1489.6 244.86 1489.7 242.9 1489.55 242.07 1489.71 240.56 1490.12 238.36 1490.17 238.14 1489.83 235.42 1489.76 235.38 1489.74 233.93 1489.89 232.32 1489.91 230.16 1490.37 228.69 1490.3 227.9" fill="none" stroke="#1e3a70" stroke-width="3.9" stroke-linejoin="round" stroke-linecap="round"/>
<text x="285" y="734.2" font-size="14" font-weight="bold" fill="#333333">۱,۶۷۸</text>
<text x="510.4" y="632.9" font-size="14" font-weight="bold" fill="#333333">۲,۰۴۳</text>
<text x="640.7" y="737.7" font-size="14" font-weight="bold" fill="#333333">۱,۶۲۴</text>
<text x="820.4" y="632.9" font-size="14" font-weight="bold" fill="#333333">۲,۰۴۳</text>
<text x="931.8" y="699.6" font-size="14" font-weight="bold" fill="#333333">۱,۸۲۳</text>
<text x="1088.9" y="557.9" font-size="14" font-weight="bold" fill="#333333">۲,۴۲۶</text>
<text x="1225.4" y="583.7" font-size="14" font-weight="bold" fill="#333333">۲,۵۷۳</text>
<text x="1332.1" y="387.9" font-size="14" font-weight="bold" fill="#333333">۳,۴۲۴</text>
<text x="1372" y="456.8" font-size="14" font-weight="bold" fill="#333333">۳,۱۷۹</text>
<text x="1472.4" y="376.8" font-size="14" font-weight="bold" fill="#333333">۳,۵۴۶</text>
<text x="1495.1" y="231.8" font-size="14" font-weight="bold" fill="#333333">۴,۳۴۲</text>
<defs><pattern id="hl" width="4" height="1.35" patternUnits="userSpaceOnUse"><rect width="4" height="1.35" fill="#d7e2ef"/><rect width="4" height="0.8" fill="#c9d7e9"/></pattern></defs>
<g role="img" aria-label="world map"><title>world map</title><path d="M1391.2 785.6 1394.9 784.6 1404.9 785.8 1412.4 784.6 1421.1 786.2 1422.9 789.3 1424.8 794.3 1428.5 793.1 1431.0 795.5 1434.7 799.9 1432.9 804.3 1429.8 806.7 1427.3 810.5 1424.8 813.0 1422.9 814.2 1421.1 816.7 1423.5 819.2 1425.0 820.2 1422.3 820.7 1418.6 817.9 1416.1 815.5 1413.0 813.6 1409.9 809.2 1408.0 804.3 1406.8 799.9 1403.6 795.5 1398.7 794.3 1394.9 795.5 1391.8 794.3 1390.9 789.3ZM1390.9 798.7 1394.9 794.9 1395.9 795.8 1391.8 799.5ZM1409.2 776.3 1412.6 775.4 1415.1 778.4 1413.3 780.4 1409.9 779.6ZM1416.1 773.4 1419.6 772.5 1421.3 775.4 1418.8 777.4 1416.3 776.4ZM1420.1 768.4 1423.5 767.6 1425.5 770.7 1423.8 773.9 1421.1 772.9ZM1422.1 764.2 1426.3 762.2 1431.6 762.9 1432.0 765.4 1428.8 767.9 1424.3 767.7ZM1422.1 782.1 1426.3 781.4 1429.5 784.6 1430.3 788.3 1427.5 788.1 1423.8 785.6ZM1426.3 793.1 1429.8 793.7 1434.5 799.3 1435.0 801.5 1432.3 800.5 1429.1 798.3ZM1433.5 765.7 1438.5 762.0 1444.7 761.1 1449.4 765.4 1451.4 765.9 1449.2 773.2 1448.4 780.6 1444.7 787.1 1441.0 790.8 1439.2 794.8 1437.2 789.3 1435.5 783.1 1434.7 776.9 1429.8 775.1 1429.8 773.2 1432.9 770.7ZM1426.0 824.2 1429.1 821.1 1434.7 821.7 1438.5 824.8 1442.6 826.7 1441.7 830.4 1439.7 834.1 1436.6 837.9 1433.5 841.6 1431.6 845.3 1430.5 850.3 1429.3 851.3 1427.9 846.6 1428.5 841.6 1429.1 836.6 1427.3 831.6 1425.4 827.9ZM1450.3 816.7 1453.4 812.3 1458.4 809.9 1464.6 810.5 1469.6 812.7 1472.3 812.0 1474.6 816.9 1476.4 821.1 1479.8 821.7 1475.8 824.8 1472.7 829.1 1472.1 834.1 1468.3 837.9 1465.9 839.8 1464.0 837.9 1462.1 831.6 1461.5 825.4 1455.9 823.2 1451.5 821.7ZM1474.6 831.1 1476.6 829.9 1475.9 833.5 1474.3 834.5ZM1454.4 807.0 1456.9 804.5 1459.6 802.0 1462.6 799.8 1465.9 798.3 1469.8 797.8 1474.8 799.0 1478.5 801.5 1478.5 807.0 1474.8 809.5 1472.3 808.7 1469.8 807.0 1467.3 808.7 1464.9 807.0 1462.4 808.7 1459.9 807.0 1457.4 808.7ZM1459.9 795.8 1461.4 790.8 1465.9 786.1 1469.1 785.3 1471.8 788.1 1468.6 790.8 1466.1 794.6 1463.6 797.0ZM1454.7 799.0 1456.1 798.3 1456.9 801.5 1455.2 802.3ZM1447.8 790.8 1451.4 790.3 1451.8 792.1 1448.4 792.8ZM1470.6 789.6 1478.3 787.5 1485.8 785.6 1489.5 781.2 1494.5 778.8 1498.2 776.0 1501.4 778.1 1503.2 781.4 1509.4 783.1 1515.6 783.1 1521.8 786.3 1528.1 787.6 1531.3 789.9 1526.8 791.8 1521.8 794.3 1519.4 797.4 1518.1 800.8 1513.9 798.3 1511.9 802.0 1512.6 807.0 1509.4 810.7 1504.4 809.5 1503.9 814.2 1500.7 816.9 1498.2 819.9 1497.0 816.9 1493.8 816.2 1490.7 816.9 1488.2 820.7 1486.4 817.4 1484.5 815.7 1479.5 814.5 1476.6 812.0 1474.6 809.5 1478.5 807.0 1478.5 801.5 1474.8 799.0 1469.8 797.8 1467.1 795.5 1469.6 791.8ZM1472.3 812.0 1476.6 812.0 1480.3 815.7 1478.3 819.4 1475.3 821.2 1473.3 816.9ZM1484.5 815.7 1490.7 816.9 1488.0 821.2 1487.0 820.7ZM1493.8 816.2 1498.2 819.9 1497.7 824.4 1495.7 821.7ZM1498.8 823.9 1500.9 824.7 1504.4 827.2 1502.4 827.2ZM1504.9 823.2 1507.4 822.7 1508.2 825.7 1505.7 826.2ZM1510.1 825.2 1513.1 824.7 1516.1 827.2 1513.4 828.1ZM1504.4 817.9 1505.7 817.9 1505.9 821.7 1504.7 821.7ZM1510.1 810.5 1512.1 806.7 1513.4 807.2 1511.6 811.5ZM1511.9 800.5 1513.1 800.5 1513.4 805.5 1512.3 805.5ZM1519.4 795.5 1521.3 795.1 1521.1 800.8 1519.6 801.3ZM1502.6 834.1 1505.7 831.6 1509.4 829.8 1511.9 831.1 1513.8 829.1 1516.2 832.9 1517.6 836.6 1515.6 839.8 1513.9 841.1 1510.6 839.1 1506.9 837.9 1503.8 839.3 1502.6 837.2ZM1523.1 845.1 1526.6 840.1 1527.6 840.6 1524.1 845.6ZM1461.5 770.9 1466.8 769.4 1467.3 772.2 1463.1 773.4ZM1478.3 782.4 1480.8 778.1 1483.5 776.4 1484.0 777.4 1481.5 779.4 1479.5 783.1ZM1475.2 768.2 1479.5 767.7 1479.8 769.4 1475.6 769.7ZM1493.8 768.2 1495.5 767.9 1497.7 772.9 1496.2 773.4Z" fill="url(#hl)" stroke="#d5e0ee" stroke-width="0.5" stroke-linejoin="round"/></g>
</svg>
</body>
</html>
